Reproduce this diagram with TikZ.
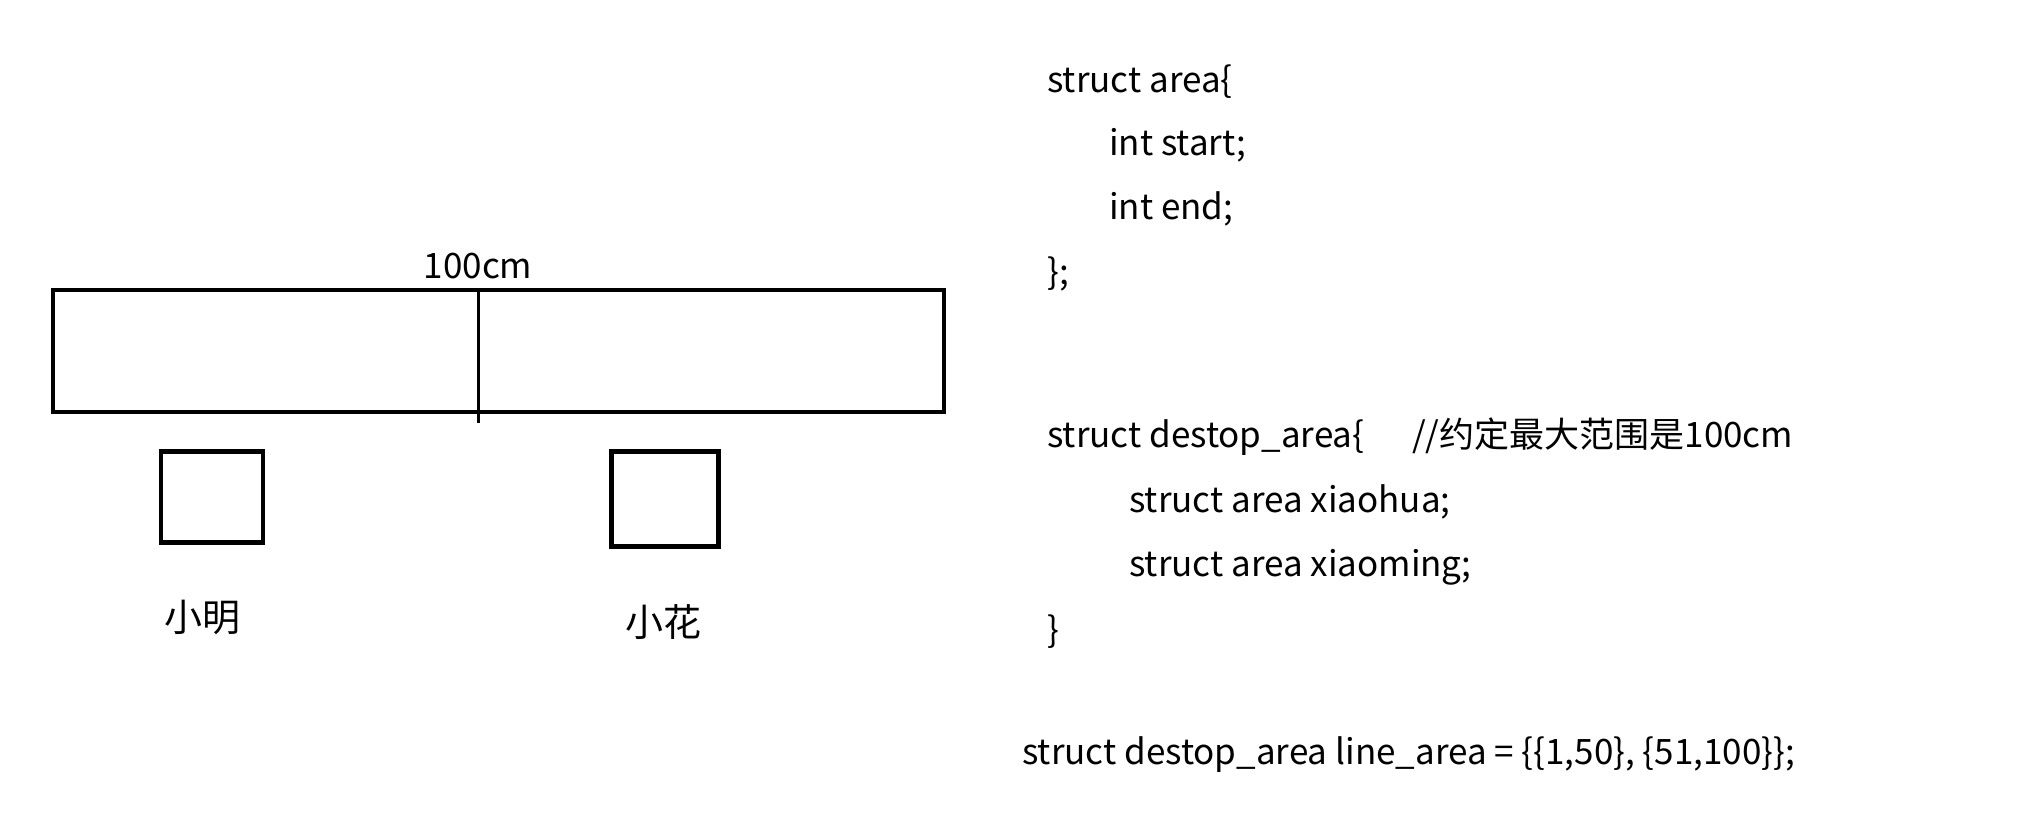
\documentclass[tikz,border=0pt]{standalone}
\usepackage{fontspec}
\setmainfont{Noto Sans CJK SC}
\begin{document}
\begin{tikzpicture}[x=1pt,y=-1pt,
  thick box/.style={draw=black,line width=4.5pt,fill=none},
  code/.style={anchor=mid west,inner sep=0pt,font=\fontsize{35}{40}\selectfont},
  lbl/.style={inner sep=0pt,font=\fontsize{35}{40}\selectfont}]
\useasboundingbox (0,0) rectangle (2020,835);
% big desk
\draw[thick box] (53,290) rectangle (944,412);
\coordinate (divtop) at (478,290);
\coordinate (divbot) at (478,423);
\draw[line width=3pt] (divtop) -- (divbot);
\node[lbl,anchor=base] (len) at (478,278) {100cm};
% persons
\node[thick box,minimum width=102pt,minimum height=91pt,inner sep=0pt] (ming) at (212,497) {};
\node[thick box,minimum width=107pt,minimum height=95pt,inner sep=0pt] (hua) at (665,499) {};
\node[lbl,font=\fontsize{38}{42}\selectfont] (lming) at (202,617) {小明};
\node[lbl,font=\fontsize{38}{42}\selectfont] (lhua) at (663,622) {小花};
% code
\node[code] (c1) at (1047,90) {struct area\{};
\node[code] (c2) at (1109,153) {int start;};
\node[code] (c3) at (1109,217) {int end;};
\node[code] (c4) at (1047,282) {\};};
\node[code] (c5) at (1047,445) {struct destop\_area\{};
\node[code] (c5b) at (1412,445) {//约定最大范围是100cm};
\node[code] (c6) at (1129,510) {struct area xiaohua;};
\node[code] (c7) at (1129,574) {struct area xiaoming;};
\node[code] (c8) at (1047,640) {\}};
\node[code] (c9) at (1022,762) {struct destop\_area line\_area = \{\{1,50\}, \{51,100\}\};};
\end{tikzpicture}
\end{document}
